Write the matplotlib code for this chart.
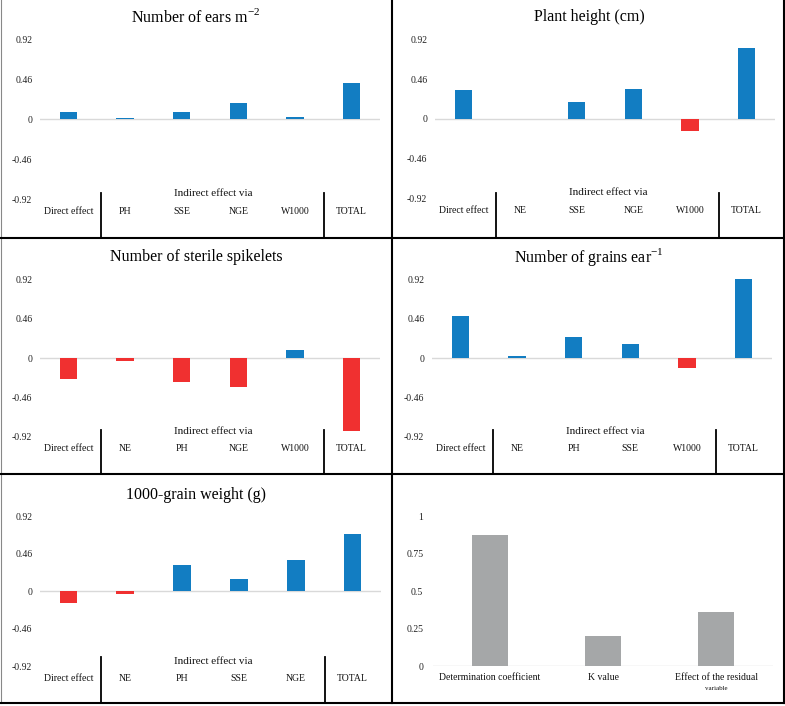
import matplotlib
matplotlib.use("Agg")
from matplotlib import pyplot as plt
from matplotlib.lines import Line2D

plt.rcParams['font.family'] = ['Liberation Serif', 'DejaVu Serif']
plt.rcParams['mathtext.fontset'] = 'custom'
plt.rcParams['mathtext.rm'] = 'Liberation Serif'

# valores
ears_cats = ["Direct effect", "PH", "SSE", "NGE", "W1000", "TOTAL"]
ears_vals = [0.08, 0.015, 0.088, 0.185, 0.023, 0.415]

height_cats = ["Direct effect", "NE", "SSE", "NGE", "W1000", "TOTAL"]
height_vals = [0.338, 0.0, 0.198, 0.342, -0.136, 0.819]

sterile_cats = ["Direct effect", "NE", "PH", "NGE", "W1000", "TOTAL"]
sterile_vals = [-0.243, -0.035, -0.278, -0.34, 0.09, -0.853]

grains_cats = ["Direct effect", "NE", "PH", "SSE", "W1000", "TOTAL"]
grains_vals = [0.486, 0.028, 0.241, 0.162, -0.115, 0.92]

weight_cats = ["Direct effect", "NE", "PH", "SSE", "NGE", "TOTAL"]
weight_vals = [-0.141, -0.029, 0.327, 0.145, 0.389, 0.708]

summary_cats = ["Determination coefficient", "K value", "Effect of the residual"]
summary_vals = [0.875, 0.198, 0.359]

effect_ticks = [-0.92, -0.46, 0, 0.46, 0.92]
effect_labels = ["-0.92", "-0.46", "0", "0.46", "0.92"]
summary_ticks = [0, 0.25, 0.5, 0.75, 1]
summary_labels = ["0", "0.25", "0.5", "0.75", "1"]

W, H = 785, 706
AZUL = '#127DC2'
VERMELHO = '#F03030'
CINZA = '#A5A7A8'

fig = plt.figure(figsize=(W / 100, H / 100), dpi=100)


def eixo(l, r, top, bot):
    return fig.add_axes([l / W, 1 - bot / H, (r - l) / W, (bot - top) / H])


def frac(top, bot, y):
    return (bot - y) / (bot - top)


def painel(box, titulo, tx, ty, cats, vals, panel_bot, ylab, yind, ysep):
    l, r, top, bot = box
    ax = eixo(l, r, top, bot)
    x = list(range(len(cats)))
    cores = [AZUL if v >= 0 else VERMELHO for v in vals]
    ax.bar(x, vals, width=0.31, color=cores, zorder=3)
    ax.axhline(0, color='#D9D9D9', lw=1, zorder=2)
    ax.set_xlim(-0.5, len(cats) - 0.5)
    ax.set_ylim(-0.92, 0.92)
    ax.set_yticks(effect_ticks)
    ax.set_yticklabels(effect_labels)
    ax.tick_params(axis='y', length=0, pad=5.5, labelsize=7, colors='#222222')
    ax.set_xticks([])
    for s in ax.spines.values():
        s.set_visible(False)
    tr = ax.get_xaxis_transform()
    for i, c in enumerate(cats):
        ax.text(i, frac(top, bot, ylab), c, transform=tr, ha='center',
                va='center', fontsize=7, color='#111111', clip_on=False)
    ax.text(2.55, frac(top, bot, yind), "Indirect effect via", transform=tr,
            ha='center', va='center', fontsize=8, color='#111111', clip_on=False)
    for xs in [0.58, 4.52]:
        ax.add_line(Line2D([xs, xs], [frac(top, bot, ysep), frac(top, bot, panel_bot)],
                           transform=tr, color='black', lw=1.3, clip_on=False))
    fig.text(tx / W, 1 - ty / H, titulo, ha='center', va='center', fontsize=11.5)
    return ax


painel((40, 380, 39.3, 199.3), r"Number of ears m$^{-2}$", 196, 17,
       ears_cats, ears_vals, 238, 211, 193, 192.7)
painel((435, 775, 39.3, 198.5), "Plant height (cm)", 589, 17,
       height_cats, height_vals, 238, 210.5, 192.5, 192.5)
painel((40, 380, 279.3, 437), "Number of sterile spikelets", 196, 257,
       sterile_cats, sterile_vals, 474, 448.3, 432, 430)
painel((432, 772, 279.3, 437), r"Number of grains ear$^{-1}$", 589, 257,
       grains_cats, grains_vals, 474, 448.3, 432, 430)
painel((40, 381, 516.3, 666), "1000-grain weight (g)", 196, 495,
       weight_cats, weight_vals, 703, 678.3, 661.3, 657)

# painel do coeficiente de determinacao
ax6 = eixo(433, 773, 516.3, 666)
ax6.bar(range(len(summary_cats)), summary_vals, width=0.316, color=CINZA, zorder=3)
ax6.axhline(0, color='#D9D9D9', lw=1, zorder=2)
ax6.set_xlim(-0.5, len(summary_cats) - 0.5)
ax6.set_ylim(0, 1)
ax6.set_yticks(summary_ticks)
ax6.set_yticklabels(summary_labels)
ax6.tick_params(axis='y', length=0, pad=7, labelsize=7, colors='#222222')
ax6.set_xticks([])
for s in ax6.spines.values():
    s.set_visible(False)
tr6 = ax6.get_xaxis_transform()
for i, c in enumerate(summary_cats):
    ax6.text(i, frac(516.3, 666, 678), c, transform=tr6, ha='center', va='center',
             fontsize=7, color='#111111', clip_on=False)
ax6.text(2, frac(516.3, 666, 689), "variable", transform=tr6, ha='center',
         va='center', fontsize=5, color='#111111', clip_on=False)

# moldura dos paineis
def linha(xs, ys, cor='black', lw=1.5):
    fig.add_artist(Line2D([v / W for v in xs], [1 - v / H for v in ys], color=cor, lw=lw))

linha([0.5, 0.5], [0, 703], cor='#888888', lw=0.8)
linha([783.5, 783.5], [0, 703])
linha([0, 785], [702.7, 702.7])
linha([392, 392], [0, 703])
linha([0, 785], [237.5, 237.5])
linha([0, 785], [474, 474])

fig.savefig('out.png', dpi=100)
